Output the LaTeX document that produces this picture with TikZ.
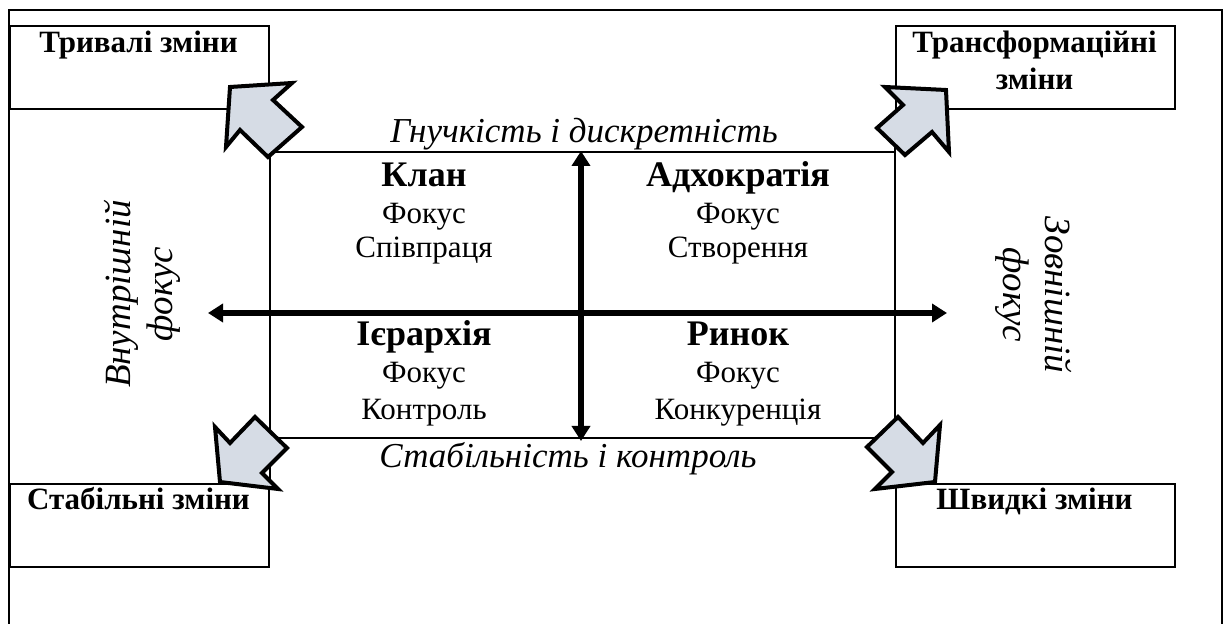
\documentclass[tikz,border=0pt]{standalone}
\usepackage{fontspec}
\setmainfont{Liberation Serif}
\usetikzlibrary{arrows.meta}
\definecolor{arrowfill}{RGB}{214,220,229}

\tikzset{
  changebox/.style={draw, line width=1pt, minimum height=41.5pt, anchor=north west, inner sep=0pt},
  boxtext/.style={font=\fontsize{15.5}{18.5}\selectfont\bfseries, align=center, anchor=base, inner sep=0pt},
  quadhead/.style={font=\fontsize{18}{20}\selectfont\bfseries, anchor=base, inner sep=0pt},
  quadtext/.style={font=\fontsize{15.5}{18}\selectfont, anchor=base, inner sep=0pt},
  axislabel/.style={font=\fontsize{17.5}{20}\selectfont\itshape, anchor=base, inner sep=0pt},
  sidelabel/.style={font=\fontsize{18.5}{21}\selectfont\itshape, align=center, inner sep=0pt},
  blockarrow/.style={draw, fill=arrowfill, line width=2pt, line join=miter},
  axis/.style={line width=3pt, {Triangle[length=7.5pt,width=9pt]}-{Triangle[length=7.5pt,width=9pt]}}
}

\begin{document}
\begin{tikzpicture}[x=0.5pt,y=-0.5pt]
  \useasboundingbox (0,0) rectangle (1228,624);
  % outer frame
  \draw[line width=1pt] (9,624) -- (9,10) -- (1222,10) -- (1222,624);

  % corner boxes
  \node[changebox, minimum width=129.5pt] (longbox) at (9,25) {};
  \node[changebox, minimum width=139.5pt] (transbox) at (895,25) {};
  \node[changebox, minimum width=129.5pt] (stablebox) at (9,483) {};
  \node[changebox, minimum width=139.5pt] (fastbox) at (895,483) {};
  \node[boxtext] (longtext) at (138.5,53) {Тривалі зміни};
  \node[boxtext] (transtext) at (1034.5,90) {Трансформаційні\\зміни};
  \node[boxtext] (stabletext) at (138.5,510) {Стабільні зміни};
  \node[boxtext] (fasttext) at (1034.5,510) {Швидкі зміни};

  % inner field
  \coordinate (fieldnw) at (268,152);
  \coordinate (fieldne) at (895,152);
  \coordinate (fieldsw) at (268,438);
  \coordinate (fieldse) at (895,438);
  \draw[line width=1pt] (longbox.south east) -- (stablebox.north east);
  \draw[line width=1pt] (transbox.south west) -- (fastbox.north west);
  \draw[line width=0.9pt] (fieldnw) -- (fieldne);
  \draw[line width=0.9pt] (fieldsw) -- (fieldse);

  % corner arrows
  \draw[blockarrow] (230,87) -- (292,83) -- (273,100) -- (302,127) -- (268,157) -- (240,130) -- (226,147) -- cycle;
  \draw[blockarrow] (946,90) -- (885,87) -- (903,105) -- (877,128) -- (905,155) -- (932,132) -- (949,152) -- cycle;
  \draw[blockarrow] (220,482) -- (215,427) -- (230,443) -- (255,417) -- (287,448) -- (262,473) -- (278,489) -- cycle;
  \draw[blockarrow] (935,482) -- (940,425) -- (923,443) -- (898,417) -- (867,447) -- (892,472) -- (875,489) -- cycle;

  % axes
  \coordinate (west) at (208,313);
  \coordinate (east) at (947,313);
  \coordinate (north) at (581,151);
  \coordinate (south) at (581,441);
  \draw[axis] (west) -- (east);
  \draw[axis] (north) -- (south);

  \node[axislabel] (flexlabel) at (584,143) {Гнучкість і дискретність};
  \node[axislabel] (stablabel) at (568,468) {Стабільність і контроль};
  \node[sidelabel, rotate=90] (innerlabel) at (142,294) {Внутрішній\\фокус};
  \node[sidelabel, rotate=-90] (outerlabel) at (1034,295) {Зовнішній\\фокус};

  % quadrants
  \node[quadhead] (clan) at (424,187) {Клан};
  \node[quadtext] (clanfocus) at (424,224) {Фокус};
  \node[quadtext] (clanaim) at (424,258) {Співпраця};
  \node[quadhead] (adhoc) at (738,187) {Адхократія};
  \node[quadtext] (adhocfocus) at (738,224) {Фокус};
  \node[quadtext] (adhocaim) at (738,258) {Створення};
  \node[quadhead] (hier) at (424,346) {Ієрархія};
  \node[quadtext] (hierfocus) at (424,383) {Фокус};
  \node[quadtext] (hieraim) at (424,420) {Контроль};
  \node[quadhead] (market) at (738,346) {Ринок};
  \node[quadtext] (marketfocus) at (738,383) {Фокус};
  \node[quadtext] (marketaim) at (738,420) {Конкуренція};
\end{tikzpicture}
\end{document}
